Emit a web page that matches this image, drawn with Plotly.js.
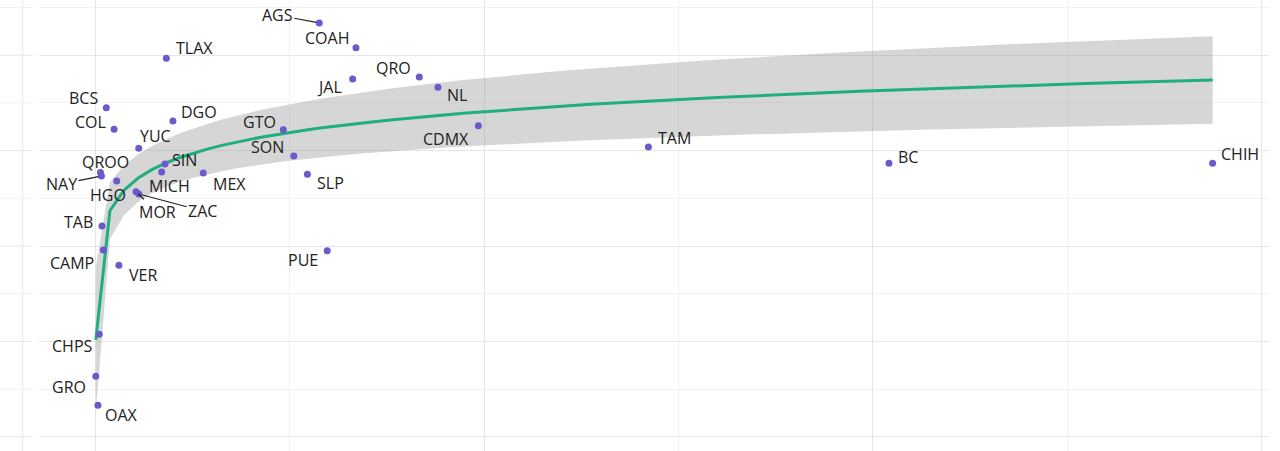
<!DOCTYPE html>
<html>
<head>
<meta charset="utf-8">
<script src="https://cdn.plot.ly/plotly-3.0.1.min.js"></script>
<style>
  html, body { margin: 0; padding: 0; background: #ffffff; }
  #chart { width: 1280px; height: 451px; }
</style>
</head>
<body>
<div id="chart"></div>
<script>
// ---- data ----
const states = ["AGS","COAH","TLAX","JAL","QRO","NL","BCS","DGO","COL","CDMX","GTO","YUC","TAM","SON","SIN","QROO","NAY","MICH","MEX","SLP","HGO","BC","CHIH","MOR","ZAC","TAB","CAMP","VER","PUE","CHPS","GRO","OAX"];
const xVals = [1151,1340,364,1323,1666,1762,55,398,95,1970,966,222,2845,1020,357,25,30,340,554,1090,109,4083,5749,208,222,33,40,120,1192,19,1,12];
const yVals = [43.38,40.79,39.68,37.51,37.72,36.64,34.50,33.10,32.23,32.61,32.19,30.24,30.38,29.43,28.60,27.70,27.34,27.76,27.65,27.52,26.81,28.67,28.67,25.69,25.45,22.10,19.58,17.98,19.51,10.74,6.34,3.30];

// grid positions (no tick labels are shown)
const xMajorTicks = [0,2000,4000,6000];
const xMinorTicks = [1000,3000,5000];
const yMajorTicks = [0,10,20,30,40];
const yMinorTicks = [5,15,25,35,45];

// ---- label placement (layout only, pixels from the point) ----
const labelDx = [-42,-29,28,-23,-26,19,-23,26,-24,-32,-24,17,26,-26,20,5,-40,8,26,23,-9,19,27,21,64,-24,-31,24,-24,-27,-27,24];
const labelDy = [-8,-10,-10,8,-9,8,-10,-9,-7,13,-8,-12,-9,-9,-4,-11,8,14,11,9,14,-6,-9,20,17,-4,13,10,9,12,11,10];
const withSegment = ["AGS","NAY","MOR","ZAC"];

// ---- log fit y ~ log(x) with 95% confidence band (as geom_smooth lm) ----
const n = xVals.length;
const L = xVals.map(v => Math.log(v));
const mL = L.reduce((s, v) => s + v, 0) / n;
const mY = yVals.reduce((s, v) => s + v, 0) / n;
let Sxx = 0, Sxy = 0;
for (let i = 0; i < n; i++) { Sxx += (L[i]-mL)**2; Sxy += (L[i]-mL)*(yVals[i]-mY); }
const b = Sxy / Sxx, a = mY - b * mL;
let SS = 0;
for (let i = 0; i < n; i++) { SS += (yVals[i] - (a + b*L[i]))**2; }
const sRes = Math.sqrt(SS / (n - 2));
const tq = 2.042; // t(0.975, df = 30)
const xmin = Math.min(...xVals), xmax = Math.max(...xVals);
const fx = [], fy = [], lo = [], hi = [];
for (let i = 0; i < 80; i++) {
  const xv = xmin + i * (xmax - xmin) / 79;
  const lv = Math.log(xv);
  const yv = a + b * lv;
  const se = sRes * Math.sqrt(1/n + (lv - mL)**2 / Sxx);
  fx.push(xv); fy.push(yv); lo.push(yv - tq*se); hi.push(yv + tq*se);
}

const band = {
  x: fx.concat(fx.slice().reverse()),
  y: hi.concat(lo.slice().reverse()),
  type: "scatter", mode: "lines", fill: "toself",
  fillcolor: "rgba(153,153,153,0.4)", line: {width: 0},
  hoverinfo: "skip", showlegend: false
};
const fitLine = {
  x: fx, y: fy, type: "scatter", mode: "lines",
  line: {color: "#1fae80", width: 3}, showlegend: false
};
const pts = {
  x: xVals, y: yVals, text: states, type: "scatter", mode: "markers",
  marker: {color: "#6a5acd", size: 7}, showlegend: false
};

const labelFont = {family: "Open Sans", size: 16, color: "#222222"};
const annotations = states.map((s, i) => {
  const seg = withSegment.includes(s);
  if (seg) {
    return {x: xVals[i], y: yVals[i], text: s, showarrow: true, arrowhead: 0,
      arrowwidth: 1.2, arrowcolor: "#222", ax: labelDx[i], ay: labelDy[i],
      standoff: 3, font: labelFont};
  }
  return {x: xVals[i], y: yVals[i], text: s, showarrow: false,
    xshift: labelDx[i], yshift: -labelDy[i], font: labelFont};
});

// decoration: cropped strip on the far left (neighbouring panel edge)
const shapes = [];
const px2paper = p => (p - 39) / 1230;
shapes.push({type: "line", xref: "paper", yref: "paper", x0: px2paper(22.7), x1: px2paper(22.7), y0: 0, y1: 1,
  line: {color: "#e6e6e6", width: 1}});
yMajorTicks.concat(yMinorTicks).forEach(v => {
  const major = yMajorTicks.includes(v);
  shapes.push({type: "line", xref: "paper", yref: "y", x0: px2paper(0), x1: px2paper(32), y0: v, y1: v,
    line: {color: major ? "#e6e6e6" : "#f2f2f2", width: 1}});
});

const layout = {
  width: 1280, height: 451,
  margin: {l: 39, r: 11, t: 0, b: 0, pad: 0},
  paper_bgcolor: "#ffffff", plot_bgcolor: "#ffffff",
  showlegend: false,
  xaxis: {range: [-291.3, 6039.1], showticklabels: false, ticks: "", zeroline: false,
    showline: false, tickmode: "array", tickvals: xMajorTicks, gridcolor: "#e6e6e6", gridwidth: 1,
    minor: {tickmode: "array", tickvals: xMinorTicks, showgrid: true, gridcolor: "#f2f2f2", gridwidth: 1}},
  yaxis: {range: [-1.49, 45.79], showticklabels: false, ticks: "", zeroline: false,
    showline: false, tickmode: "array", tickvals: yMajorTicks, gridcolor: "#e6e6e6", gridwidth: 1,
    minor: {tickmode: "array", tickvals: yMinorTicks, showgrid: true, gridcolor: "#f2f2f2", gridwidth: 1}},
  annotations: annotations,
  shapes: shapes
};

Plotly.newPlot("chart", [band, fitLine, pts], layout, {displayModeBar: false, staticPlot: true});
</script>
</body>
</html>
